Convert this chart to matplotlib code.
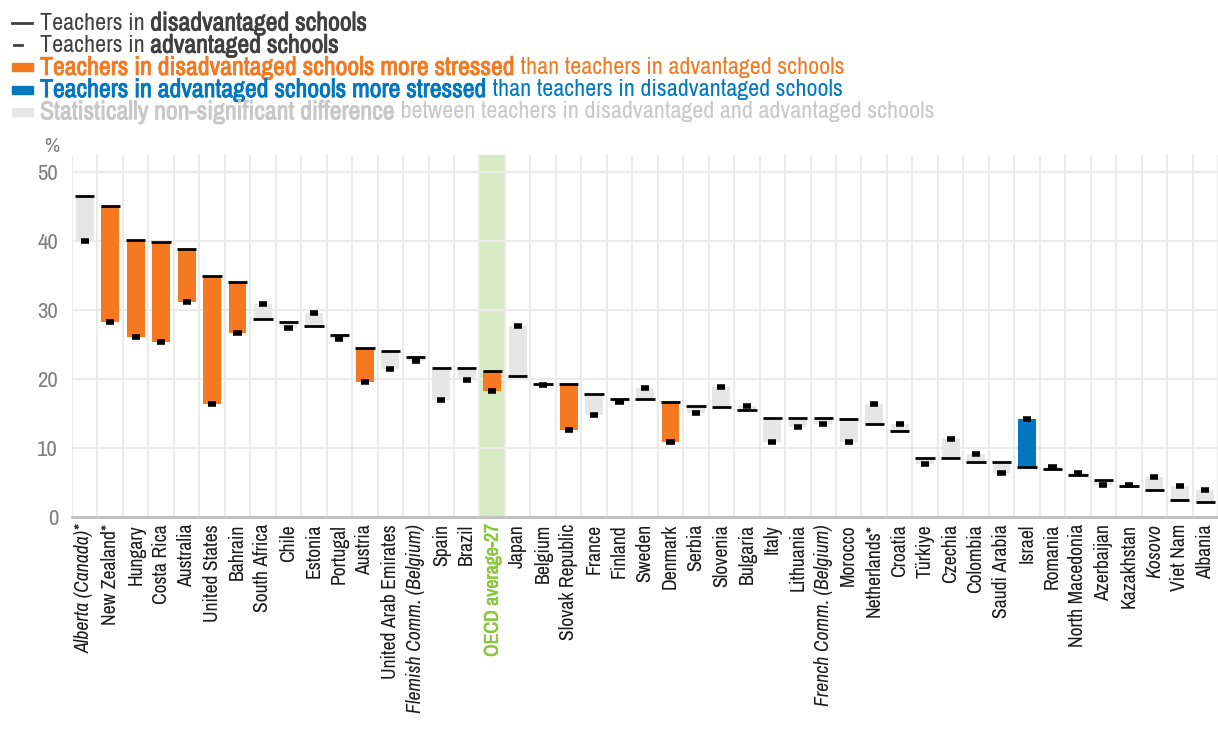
import matplotlib
matplotlib.use("Agg")
import matplotlib.pyplot as plt
import matplotlib.patheffects as pe
from matplotlib import font_manager

# pick a narrow face (regular + italic); bold is faked with a stroke
fonts = font_manager.fontManager.ttflist
narrow = [f for f in fonts if 'narrow' in f.fname.lower()]
FONT = narrow[0].name if narrow else 'Liberation Sans'
plt.rcParams['font.family'] = FONT

countries = ['Alberta (Canada)*', 'New Zealand*', 'Hungary', 'Costa Rica', 'Australia',
             'United States', 'Bahrain', 'South Africa', 'Chile', 'Estonia', 'Portugal',
             'Austria', 'United Arab Emirates', 'Flemish Comm. (Belgium)', 'Spain', 'Brazil',
             'OECD average-27', 'Japan', 'Belgium', 'Slovak Republic', 'France', 'Finland',
             'Sweden', 'Denmark', 'Serbia', 'Slovenia', 'Bulgaria', 'Italy', 'Lithuania',
             'French Comm. (Belgium)', 'Morocco', 'Netherlands*', 'Croatia', 'Türkiye',
             'Czechia', 'Colombia', 'Saudi Arabia', 'Israel', 'Romania', 'North Macedonia',
             'Azerbaijan', 'Kazakhstan', 'Kosovo', 'Viet Nam', 'Albania']
disadv = [46.5, 45.0, 40.1, 39.8, 38.8, 34.9, 34.0, 28.6, 28.2, 27.6, 26.3,
          24.4, 24.1, 23.2, 21.6, 21.6, 21.2, 20.4, 19.3, 19.2, 17.8, 17.1,
          17.1, 16.6, 16.0, 15.9, 15.5, 14.4, 14.4, 14.3, 14.2, 13.5, 12.5, 8.5,
          8.5, 7.9, 7.9, 7.2, 7.0, 6.1, 5.4, 4.5, 3.9, 2.5, 2.2]
adv = [40.0, 28.2, 26.0, 25.3, 31.1, 16.3, 26.6, 30.9, 27.3, 29.5, 25.7,
       19.6, 21.4, 22.6, 16.9, 19.8, 18.2, 27.7, 19.1, 12.6, 14.7, 16.6,
       18.7, 10.8, 15.0, 18.8, 16.1, 10.8, 13.0, 13.4, 10.8, 16.4, 13.5, 7.7,
       11.3, 9.1, 6.3, 14.2, 7.3, 6.4, 4.6, 4.7, 5.8, 4.5, 3.9]
# d = disadvantaged more stressed, a = advantaged more stressed, n = not significant
signif = ['n', 'd', 'd', 'd', 'd', 'd', 'd', 'n', 'n', 'n', 'n',
          'd', 'n', 'n', 'n', 'n', 'd', 'n', 'n', 'd', 'n', 'n',
          'n', 'd', 'n', 'n', 'n', 'n', 'n', 'n', 'n', 'n', 'n', 'n',
          'n', 'n', 'n', 'a', 'n', 'n', 'n', 'n', 'n', 'n', 'n']
italic_labels = ['Alberta (Canada)*', 'Flemish Comm. (Belgium)', 'French Comm. (Belgium)', 'Kosovo']
average = 'OECD average-27'

ORANGE = '#F47920'
BLUE = '#0077C0'
GREY = '#E6E6E6'
GREEN = '#8CC63F'
colors = {'d': ORANGE, 'a': BLUE, 'n': GREY}


def fake_bold(t, c, w=0.6):
    t.set_path_effects([pe.withStroke(linewidth=w, foreground=c)])


W, H = 1218, 732
fig = plt.figure(figsize=(W / 100, H / 100), dpi=100)
ax = fig.add_axes([72 / W, 1 - 517 / H, 1 - 72 / W, (517 - 155) / H])

x = list(range(len(countries)))
lows = [min(a, b) for a, b in zip(disadv, adv)]
highs = [max(a, b) for a, b in zip(disadv, adv)]
heights = [h - l for h, l in zip(highs, lows)]

avg_i = countries.index(average)
ax.axvspan(avg_i - 0.5, avg_i + 0.5, color='#D7EBC3', zorder=0, lw=0)

ax.bar(x, heights, bottom=lows, width=0.7, color=[colors[s] for s in signif], zorder=2)
ax.hlines(disadv, [i - 0.38 for i in x], [i + 0.38 for i in x], color='black', lw=2, zorder=3)
ax.hlines(adv, [i - 0.16 for i in x], [i + 0.16 for i in x], color='black', lw=4, zorder=3)

ax.set_ylim(0, 52.4)
ax.set_xlim(-0.5, 44.09)
ax.set_yticks([0, 10, 20, 30, 40, 50])
ax.set_xticks([i + 0.5 for i in range(-1, len(countries))], minor=True)
ax.grid(which='minor', axis='x', color='#EBEBEB', lw=1.5, zorder=1)
ax.grid(which='major', axis='y', color='#EBEBEB', lw=1.5, zorder=1)
ax.set_axisbelow(True)
ax.set_xticks(x)
ax.set_xticklabels(countries, rotation=90, fontsize=14.2)
ax.tick_params(axis='both', length=0)
ax.tick_params(axis='x', which='minor', length=0)
ax.tick_params(axis='x', pad=5)
ax.tick_params(axis='y', labelsize=16.5, labelcolor='#7F7F7F', pad=10)
for sp in ['top', 'right', 'left']:
    ax.spines[sp].set_visible(False)
ax.spines['bottom'].set_color('#BFBFBF')
ax.spines['bottom'].set_linewidth(2)
for lab in ax.get_xticklabels():
    t = lab.get_text()
    lab.set_color('#1A1A1A')
    if t in italic_labels:
        lab.set_style('italic')
    if t == average:
        lab.set_color(GREEN)
        fake_bold(lab, GREEN, 0.5)
fig.text(44 / W, 1 - 147 / H, '%', fontsize=15, color='#7F7F7F', ha='left', va='center')

# legend built from text pieces
renderer = fig.canvas.get_renderer()
legend_rows = [
    ('dis', [('Teachers in ', False, '#404040'), ('disadvantaged schools', True, '#404040')]),
    ('adv', [('Teachers in ', False, '#404040'), ('advantaged schools', True, '#404040')]),
    (ORANGE, [('Teachers in disadvantaged schools more stressed', True, ORANGE),
              (' than teachers in advantaged schools', False, ORANGE)]),
    (BLUE, [('Teachers in advantaged schools more stressed', True, BLUE),
            (' than teachers in disadvantaged schools', False, BLUE)]),
    (GREY, [('Statistically non-significant difference', True, '#C8C8C8'),
            (' between teachers in disadvantaged and advantaged schools', False, '#C8C8C8')]),
]
for r, (key, pieces) in enumerate(legend_rows):
    yy = 1 - (23 + r * 22.2) / H
    if key == 'dis':
        fig.add_artist(plt.Line2D([12 / W, 32 / W], [yy, yy], color='#404040', lw=2))
    elif key == 'adv':
        fig.add_artist(plt.Line2D([14 / W, 22 / W], [yy, yy], color='#404040', lw=2))
    else:
        fig.add_artist(plt.Rectangle((12 / W, yy - 4 / H), 21 / W, 8 / H, color=key))
    xx = 40 / W
    for txt, bold, c in pieces:
        t = fig.text(xx, yy, txt, fontsize=18.6 if bold else 17.3, color=c, va='center', ha='left')
        if bold:
            fake_bold(t, c, 0.6)
        bb = t.get_window_extent(renderer=renderer)
        xx += (bb.width + (1 if bold else 0)) / W

fig.savefig('out.png', dpi=100)
